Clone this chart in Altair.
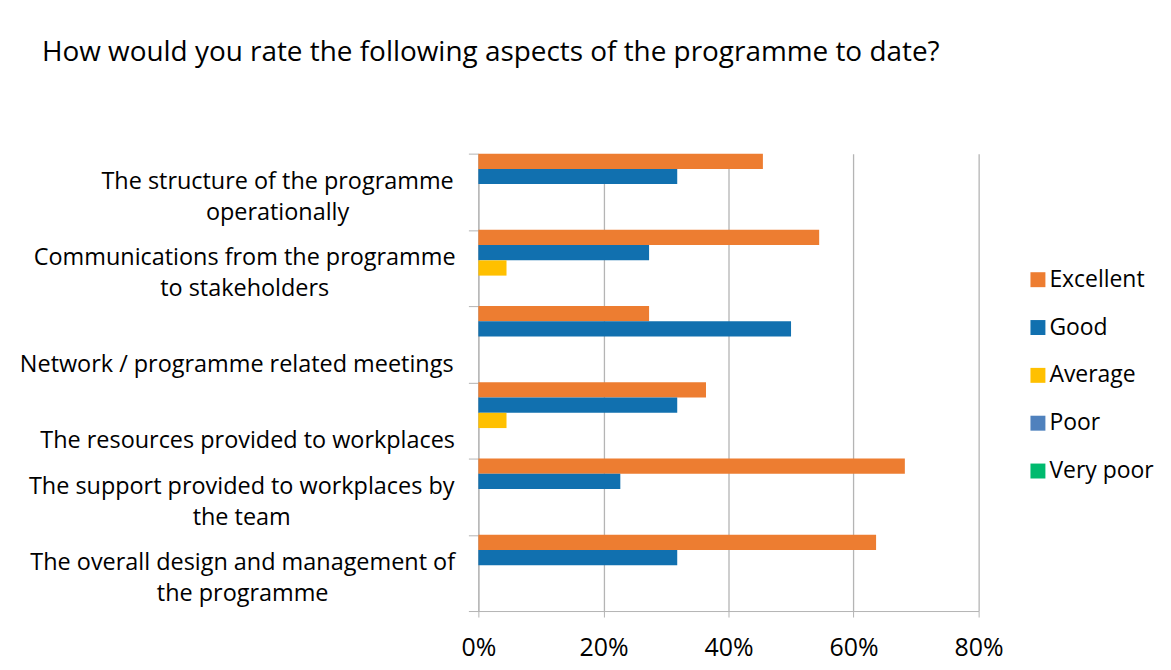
import altair as alt
import pandas as pd

categories = [
    "The structure of the programme|operationally",
    "Communications from the programme|to stakeholders",
    "Network / programme related meetings",
    "The resources provided to workplaces",
    "The support provided to workplaces by|the team",
    "The overall design and management of|the programme",
]
series = ["Excellent", "Good", "Average", "Poor", "Very poor"]
excellent = [0.455, 0.545, 0.273, 0.364, 0.682, 0.636]
good = [0.318, 0.273, 0.500, 0.318, 0.227, 0.318]
average = [0.0, 0.045, 0.0, 0.045, 0.0, 0.0]
poor = [0.0, 0.0, 0.0, 0.0, 0.0, 0.0]
very_poor = [0.0, 0.0, 0.0, 0.0, 0.0, 0.0]
colors = ["#ED7D31", "#1170AF", "#FFC000", "#4F81BD", "#00BA6E"]
title_text = "How would you rate the following aspects of the programme to date?"

# per-label padding so that multi-line labels are centred like the original
label_pads = [192, 225, 233, 222, 228, 227]

rows = []
for s, vals in zip(series, [excellent, good, average, poor, very_poor]):
    for c, v in zip(categories, vals):
        rows.append({"category": c, "series": s, "value": v})
df = pd.DataFrame(rows)

FONT = "Open Sans"
GRID = "#B4B4B4"

pad_conditions = [
    {"test": f"datum.value == '{c}'", "value": p}
    for c, p in zip(categories, label_pads)
]

chart = alt.Chart(df).mark_bar().encode(
    x=alt.X(
        "value:Q",
        scale=alt.Scale(domain=[0, 0.8], nice=False),
        axis=alt.Axis(
            title=None,
            format=".0%",
            values=[0, 0.2, 0.4, 0.6, 0.8],
            grid=True,
            gridColor=GRID,
            gridWidth=1.3,
            domainColor=GRID,
            tickColor=GRID,
            tickSize=6,
            labelFontSize=25,
            labelColor="#000000",
            labelPadding=19,
            labelFlush=False,
        ),
    ),
    y=alt.Y(
        "category:N",
        sort=categories,
        scale=alt.Scale(paddingInner=0, paddingOuter=0),
        axis=alt.Axis(
            title=None,
            labelExpr="split(datum.label, '|')",
            labelFontSize=23.5,
            labelColor="#000000",
            labelLineHeight=31,
            labelLimit=600,
            labelAlign="center",
            labelPadding={"condition": pad_conditions, "value": 222},
            tickBand="extent",
            tickSize=10,
            tickColor=GRID,
            domainColor=GRID,
            labelOffset={
                "condition": {
                    "test": "indexof(['Network / programme related meetings', 'The resources provided to workplaces'], datum.value) >= 0",
                    "value": 20,
                },
                "value": -10,
            },
        ),
    ),
    yOffset=alt.YOffset(
        "series:N",
        sort=series,
        scale=alt.Scale(domain=series, paddingInner=0, paddingOuter=0),
    ),
    color=alt.Color(
        "series:N",
        sort=series,
        scale=alt.Scale(domain=series, range=colors),
        legend=alt.Legend(
            title=None,
            orient="none",
            legendX=550,
            legendY=115,
            symbolType="square",
            symbolSize=225,
            symbolStrokeWidth=0,
            labelFontSize=23,
            labelColor="#000000",
            rowPadding=24,
            labelOffset=0,
        ),
    ),
).properties(
    width=502,
    height=459,
    title=alt.TitleParams(
        text=title_text,
        anchor="start",
        frame="group",
        dx=-438,
        offset=75,
        fontSize=28,
        fontWeight="normal",
        color="#000000",
    ),
    padding={"left": 472, "top": 145, "right": 185, "bottom": 50},
    autosize="none",
).configure(
    font=FONT,
).configure_view(
    stroke=None,
)

chart.save("out.html", embed_options={"renderer": "svg", "actions": False})
